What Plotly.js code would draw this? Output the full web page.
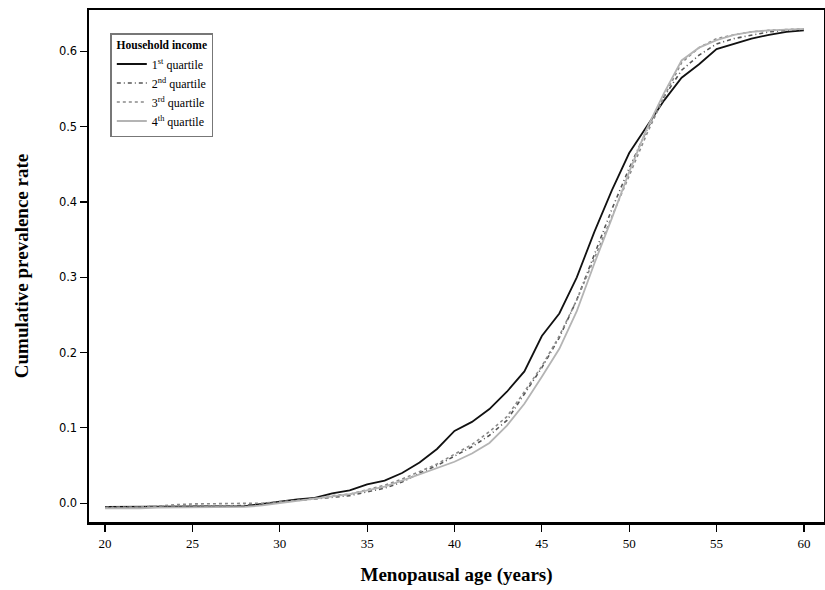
<!DOCTYPE html>
<html>
<head>
<meta charset="utf-8">
<script src="https://cdn.plot.ly/plotly-3.0.1.min.js"></script>
<style>html,body{margin:0;padding:0;background:#fff;}#chart{width:825px;height:590px;}</style>
</head>
<body>
<div id="chart"></div>
<script>
var ages = [20,21,22,23,24,25,26,27,28,29,30,31,32,33,34,35,36,37,38,39,40,41,42,43,44,45,46,47,48,49,50,51,52,53,54,55,56,57,58,59,60];
var q1 = [-0.005,-0.005,-0.005,-0.005,-0.005,-0.005,-0.005,-0.005,-0.004,-0.001,0.002,0.005,0.007,0.013,0.017,0.025,0.030,0.040,0.054,0.072,0.096,0.108,0.125,0.148,0.175,0.222,0.252,0.300,0.360,0.415,0.465,0.500,0.535,0.565,0.583,0.603,0.610,0.617,0.622,0.626,0.628];
var q2 = [-0.005,-0.005,-0.005,-0.005,-0.004,-0.004,-0.004,-0.004,-0.003,-0.001,0.001,0.003,0.005,0.008,0.010,0.015,0.020,0.028,0.040,0.050,0.062,0.075,0.090,0.110,0.145,0.180,0.220,0.270,0.330,0.390,0.445,0.495,0.540,0.575,0.595,0.610,0.617,0.622,0.626,0.628,0.629];
var q3 = [-0.006,-0.006,-0.005,-0.004,-0.002,-0.001,-0.001,-0.001,-0.001,0.000,0.002,0.004,0.006,0.010,0.012,0.018,0.024,0.032,0.042,0.052,0.065,0.078,0.095,0.115,0.148,0.182,0.222,0.270,0.325,0.380,0.435,0.490,0.540,0.585,0.605,0.617,0.622,0.626,0.628,0.629,0.630];
var q4 = [-0.007,-0.007,-0.007,-0.006,-0.006,-0.006,-0.005,-0.005,-0.005,-0.003,0.000,0.002,0.005,0.008,0.012,0.017,0.022,0.030,0.038,0.046,0.055,0.066,0.080,0.103,0.132,0.168,0.205,0.255,0.318,0.378,0.440,0.497,0.545,0.588,0.605,0.615,0.622,0.626,0.628,0.629,0.630];
var names = ['1<sup>st</sup> quartile','2<sup>nd</sup> quartile','3<sup>rd</sup> quartile','4<sup>th</sup> quartile'];
var xTicks = [20,25,30,35,40,45,50,55,60];
var yTicks = [0.0,0.1,0.2,0.3,0.4,0.5,0.6];

var font = 'Liberation Serif, Times New Roman, serif';
var traces = [
  {x: ages, y: q1, name: names[0], mode: 'lines', line: {color: '#111111', width: 1.8, dash: 'solid'}},
  {x: ages, y: q2, name: names[1], mode: 'lines', line: {color: '#555555', width: 1.6, dash: '4px,3px,1px,3px'}},
  {x: ages, y: q3, name: names[2], mode: 'lines', line: {color: '#8a8a8a', width: 1.6, dash: 'dot'}},
  {x: ages, y: q4, name: names[3], mode: 'lines', line: {color: '#b4b4b4', width: 1.8, dash: 'solid'}}
];
var layout = {
  width: 825, height: 590,
  margin: {l: 89, r: 1, t: 10, b: 68},
  paper_bgcolor: '#fff', plot_bgcolor: '#fff',
  font: {family: font, color: '#000', size: 13},
  showlegend: true,
  legend: {
    x: 0.029, y: 0.955, xanchor: 'left', yanchor: 'top',
    bgcolor: '#fff', bordercolor: '#777', borderwidth: 1.5,
    font: {family: font, size: 12, color: '#000'},
    title: {text: '<b>Household income</b>', side: 'top center', font: {family: font, size: 11.5}},
    tracegroupgap: 0, itemwidth: 30
  },
  xaxis: {
    range: [19.08, 61.15], tickvals: xTicks, ticktext: xTicks.map(String),
    showline: true, mirror: true, linecolor: '#000', linewidth: 2.5,
    ticks: 'outside', ticklen: 7, tickwidth: 1.2, tickcolor: '#000',
    ticklabelstandoff: 1,
    showgrid: false, zeroline: false,
    tickfont: {family: font, size: 13},
    title: {text: '<b>Menopausal age (years)</b>', font: {family: font, size: 19}, standoff: 18}
  },
  yaxis: {
    range: [-0.025, 0.655], tickvals: yTicks, tickformat: '.1f',
    showline: true, mirror: true, linecolor: '#000', linewidth: 2.5,
    ticks: 'outside', ticklen: 7, tickwidth: 1.2, tickcolor: '#000',
    showgrid: false, zeroline: false,
    tickfont: {family: 'DejaVu Sans, sans-serif', size: 11.5},
    title: {text: '<b>Cumulative prevalence rate</b>', font: {family: font, size: 19}, standoff: 26}
  }
};
Plotly.newPlot('chart', traces, layout, {displayModeBar: false, staticPlot: true});
</script>
</body>
</html>
